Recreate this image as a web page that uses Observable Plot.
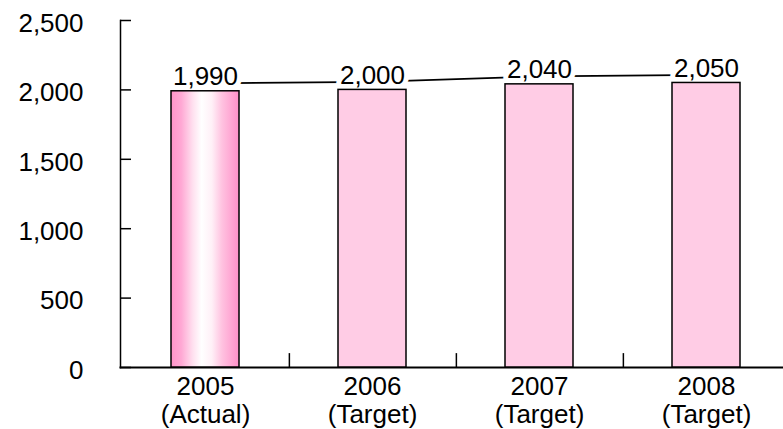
<!DOCTYPE html>
<html>
<head>
<meta charset="utf-8">
<script src="https://cdn.jsdelivr.net/npm/d3@7"></script>
<script src="https://cdn.jsdelivr.net/npm/@observablehq/plot@0.6"></script>
<style>
  html, body { margin: 0; padding: 0; background: #fff; overflow: hidden; }
</style>
</head>
<body>
<div id="chart"></div>
<script>
const years = ["2005", "2006", "2007", "2008"];
const kinds = ["Actual", "Target", "Target", "Target"];
const values = [1990, 2000, 2040, 2050];
const yTicks = [0, 500, 1000, 1500, 2000, 2500];

const data = years.map((y, i) => ({year: y, kind: kinds[i], value: values[i]}));
const labelOf = Object.fromEntries(data.map(d => [d.year, `${d.year}\n(${d.kind})`]));
const fmt = d3.format(",");

const xRange = [120, 791];
const step = (xRange[1] - xRange[0]) / years.length;
const fs = 26;

const svg = Plot.plot({
  width: 783,
  height: 429,
  marginLeft: 120,
  marginRight: -8,
  marginTop: 20,
  marginBottom: 62,
  style: {fontFamily: "'Liberation Sans', Arial, sans-serif", fontSize: fs + "px", background: "#fff", color: "#000"},
  x: {domain: years, range: xRange, paddingInner: 0.594, paddingOuter: 0.297, label: null},
  y: {domain: [0, 2500], range: [367, 20], label: null},
  marks: [
    Plot.frame({anchor: "left", stroke: "#000", strokeWidth: 1.5}),
    Plot.frame({anchor: "bottom", stroke: "#000", strokeWidth: 2}),
    Plot.axisY({ticks: yTicks, tickSize: 0, tickPadding: 37, dy: 3, tickFormat: fmt, fontSize: fs, label: null}),
    Plot.tickY(yTicks, {y: d => d, insetRight: (xRange[1] - xRange[0]) - 11, stroke: "#000", strokeWidth: 1.5}),
    Plot.axisX({tickSize: 0, tickPadding: 7, tickFormat: d => labelOf[d], fontSize: fs, lineHeight: 1.09, label: null}),
    Plot.ruleX(years, {x: d => d, dx: step / 2, y1: 0, y2: 100, stroke: "#000", strokeWidth: 1.5}),
    Plot.line(data, {x: "year", y: "value", dy: -8, stroke: "#000", strokeWidth: 1.8}),
    Plot.text(data, {x: "year", y: "value", text: d => fmt(d.value), dy: -6, lineAnchor: "bottom", fontSize: fs, fill: "#000", stroke: "#fff", strokeWidth: 10, paintOrder: "stroke"}),
    Plot.barY(data.filter(d => d.kind === "Actual"), {x: "year", y: "value", fill: "url(#actualGrad)", stroke: "#000", strokeWidth: 1.5}),
    Plot.barY(data.filter(d => d.kind === "Target"), {x: "year", y: "value", fill: "#ffcce5", stroke: "#000", strokeWidth: 1.5})
  ]
});

const defs = d3.select(svg).insert("defs", ":first-child");
const grad = defs.append("linearGradient").attr("id", "actualGrad").attr("x1", "0").attr("x2", "1").attr("y1", "0").attr("y2", "0");
[[0, "#ff94c9"], [0.15, "#ffa8d4"], [0.32, "#ffe0ef"], [0.45, "#ffffff"], [0.6, "#fff0f7"], [0.75, "#ffc2e0"], [1, "#ff8fc8"]]
  .forEach(([o, c]) => grad.append("stop").attr("offset", o).attr("stop-color", c));

document.getElementById("chart").appendChild(svg);
</script>
</body>
</html>
